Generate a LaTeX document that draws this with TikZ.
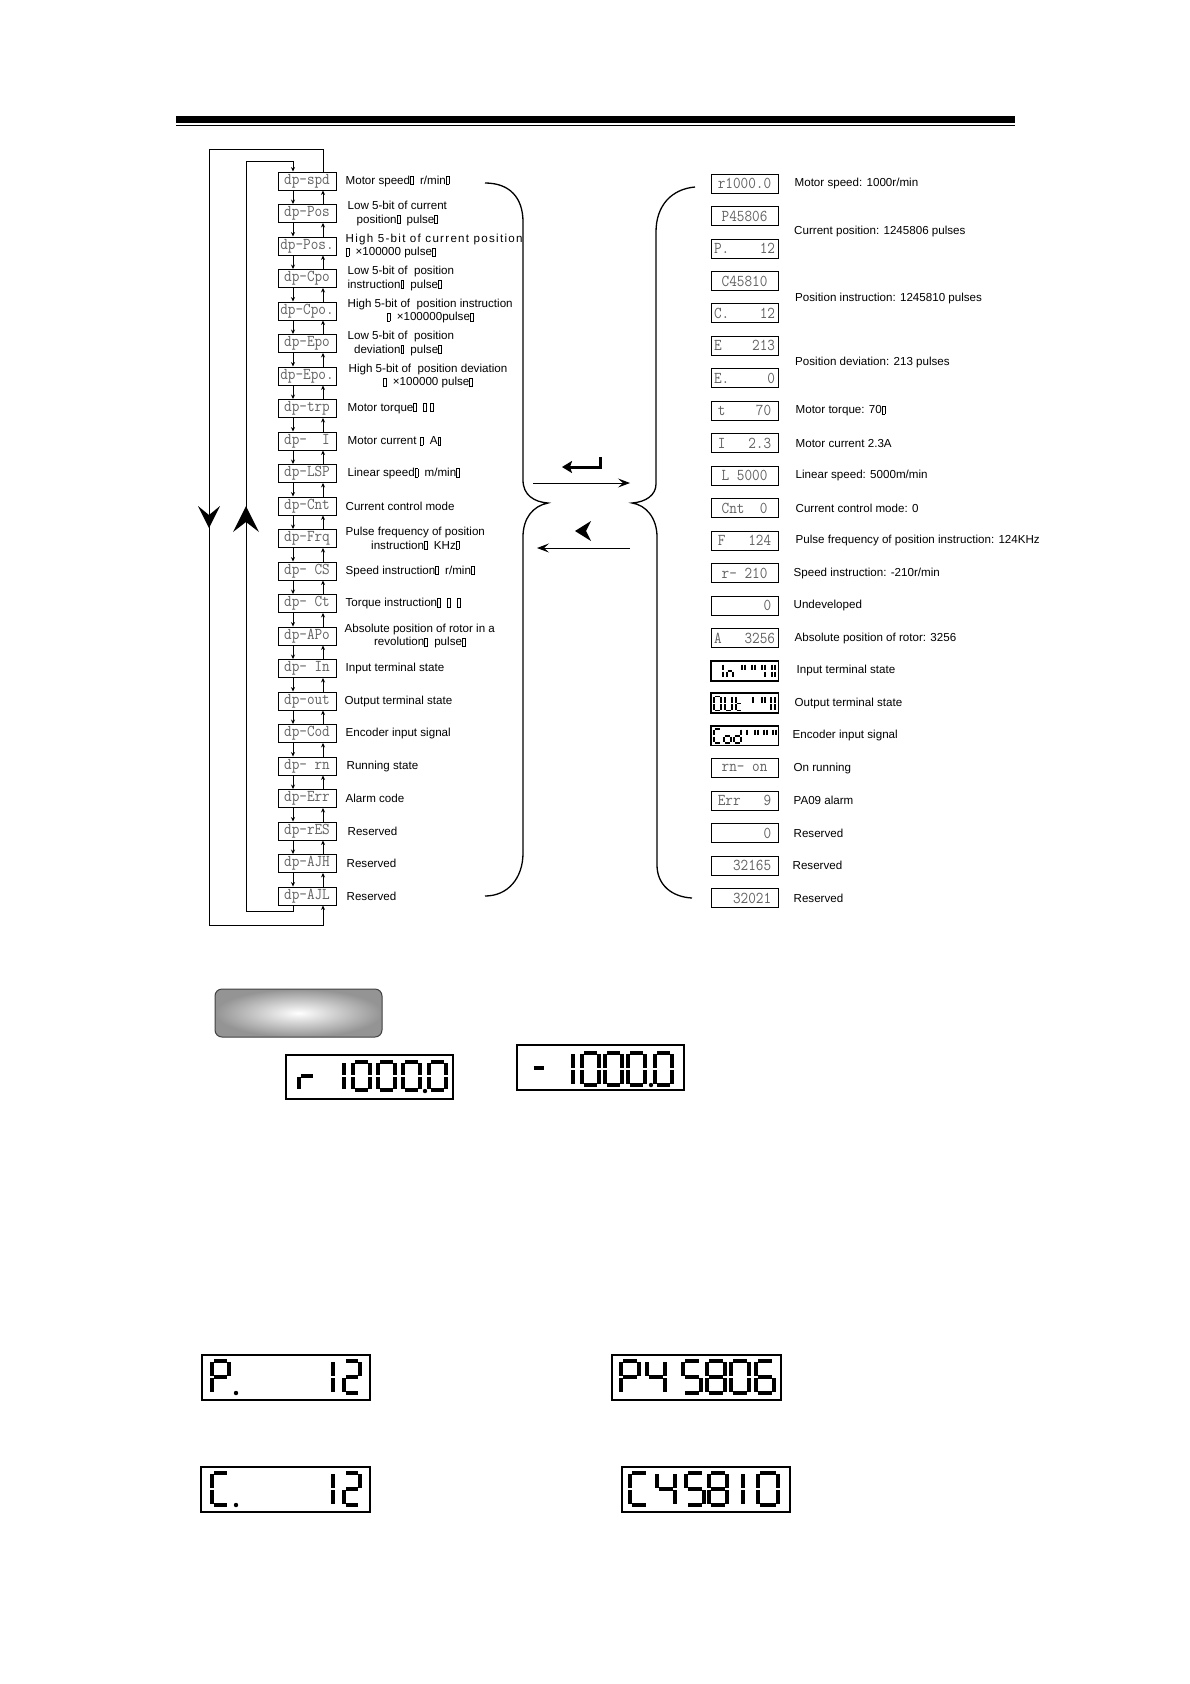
\documentclass[tikz,border=0pt]{standalone}
\usepackage{graphicx}
\usepackage{fontspec}
\setmainfont{Liberation Sans}
\usetikzlibrary{arrows.meta,positioning}

% missing-glyph box as printed in the source
\newcommand\nb{{\setlength\fboxsep{0pt}\setlength\fboxrule{0.55pt}\fbox{\rule{0pt}{7.6pt}\hspace{2.4pt}}}}
\newcommand\lcdtext[1]{\scalebox{1}[1.12]{#1}}

% seven segment digits: bits a b c d e f g
\newcommand\segbits[7]{%
  \ifnum#1=1 \draw[seg] (.12,0)--(.88,0);\fi
  \ifnum#2=1 \draw[seg] (1,.08)--(1,.92);\fi
  \ifnum#3=1 \draw[seg] (1,1.08)--(1,1.92);\fi
  \ifnum#4=1 \draw[seg] (.12,2)--(.88,2);\fi
  \ifnum#5=1 \draw[seg] (0,1.08)--(0,1.92);\fi
  \ifnum#6=1 \draw[seg] (0,.08)--(0,.92);\fi
  \ifnum#7=1 \draw[seg] (.12,1)--(.88,1);\fi}
\newcommand\sdig[6][]{\begin{scope}[shift={(#2,#3)},xscale=#4,yscale=#5/2,#1]\expandafter\segbits#6\end{scope}}
\def\sgzero{1111110}
\def\sgtwo{1101101}
\def\sgfour{0110011}
\def\sgfive{1011011}
\def\sgsix{1011111}
\def\sgeight{1111111}
\def\sgP{1100111}
\def\sgC{1001110}
\def\sgr{0000101}
\def\sgdash{0000001}
\def\sgbar{0000110}
\def\sgn{0010101}
\def\sgt{0001111}
\def\sgU{0111110}
\def\sgo{0011101}
\def\sgd{0111101}
\def\sgtick{0100010}

\begin{document}
\begin{tikzpicture}[x=1pt,y=-1pt,
  lcd/.style={draw,line width=0.9pt,minimum width=58pt,minimum height=18pt,inner sep=0pt,
    font=\ttfamily\fontsize{14.8}{14.8}\selectfont,text=black!62},
  val/.style={lcd,minimum width=67pt,minimum height=19pt},
  lbl/.style={inner sep=0pt,font=\fontsize{11.6}{13.5}\selectfont},
  arr/.style={-{Stealth[length=4.5pt,width=4pt]},line width=0.8pt},
  mid/.style={-{Stealth[length=12pt,width=9pt,inset=5pt]},line width=0.9pt},
  seg/.style={line width=3.2pt},
  disp/.style={draw,line width=1.3pt}]
\useasboundingbox (0,0) rectangle (1190,1684);

% header rule
\draw[line width=7pt] (176,119.6) -- (1015,119.6);
\draw[line width=1.3pt] (176,125.6) -- (1015,125.6);

% parameter chain
\foreach \t [count=\i from 0] in {spd,Pos,Pos.,Cpo,Cpo.,Epo,Epo.,trp,~~I,LSP,Cnt,Frq,~CS,~Ct,APo,~In,out,Cod,~rn,Err,rES,AJH,AJL}
  \node[lcd] (dp\i) at (307,181+32.5*\i) {\lcdtext{dp-\t}};
\foreach \i in {0,...,21} {
  \pgfmathtruncatemacro\j{\i+1}
  \draw[arr] ([xshift=-14pt]dp\i.south) -- ([xshift=-14pt]dp\j.north);
  \draw[arr] ([xshift=16pt]dp\j.north) -- ([xshift=16pt]dp\i.south);
}
\coordinate (innerb) at (246,911);
\coordinate (innert) at (246,161);
\coordinate (outert) at (209,149);
\coordinate (outerb) at (209,925);
\draw[arr] ([xshift=-14pt]dp22.south) |- (innerb) -- (innert) -| ([xshift=-14pt]dp0.north);
\draw[arr] ([xshift=16pt]dp0.north) |- (outert) -- (outerb) -| ([xshift=16pt]dp22.south);
\fill (209,528) -- (198,506) -- (209,515) -- (220,506) -- cycle;
\fill (246,506) -- (233,532) -- (246,522) -- (259,532) -- cycle;

% left labels
\node[lbl,right=9pt of dp0] (lb0) {Motor speed\nb\ \ r/min\nb};
\node[lbl,align=center,right=11pt of dp1] (lb1) {Low 5-bit of current\\position\nb\ \ pulse\nb};
\node[lbl,align=left,right=9pt of dp2] (lb2) {{\addfontfeature{LetterSpace=11}High 5-bit of current position}\\\nb\ \ ×100000 pulse\nb};
\node[lbl,align=left,right=11pt of dp3] (lb3) {Low 5-bit of\ \ position\\instruction\nb\ \ pulse\nb};
\node[lbl,align=center,right=11pt of dp4] (lb4) {High 5-bit of\ \ position instruction\\\nb\ \ ×100000pulse\nb};
\node[lbl,align=left,right=11pt of dp5] (lb5) {Low 5-bit of\ \ position\\\ \ deviation\nb\ \ pulse\nb};
\node[lbl,align=center,right=12pt of dp6] (lb6) {High 5-bit of\ \ position deviation\\\nb\ \ ×100000 pulse\nb};
\node[lbl,right=11pt of dp7] (lb7) {Motor torque\nb\ \ \nb\ \nb};
\node[lbl,right=11pt of dp8] (lb8) {Motor current \nb\ \ A\nb};
\node[lbl,right=11pt of dp9] (lb9) {Linear speed\nb\ \ m/min\nb};
\node[lbl,right=9pt of dp10] (lb10) {Current control mode};
\node[lbl,align=center,right=9pt of dp11] (lb11) {Pulse frequency of position\\instruction\nb\ \ KHz\nb};
\node[lbl,right=9pt of dp12] (lb12) {Speed instruction\nb\ \ r/min\nb};
\node[lbl,right=9pt of dp13] (lb13) {Torque instruction\nb\ \ \nb\ \ \nb};
\node[lbl,align=center,right=8pt of dp14] (lb14) {Absolute position of rotor in a\\revolution\nb\ \ pulse\nb};
\node[lbl,right=9pt of dp15] (lb15) {Input terminal state};
\node[lbl,right=8pt of dp16] (lb16) {Output terminal state};
\node[lbl,right=9pt of dp17] (lb17) {Encoder input signal};
\node[lbl,right=10pt of dp18] (lb18) {Running state};
\node[lbl,right=9pt of dp19] (lb19) {Alarm code};
\node[lbl,right=11pt of dp20] (lb20) {Reserved};
\node[lbl,right=10pt of dp21] (lb21) {Reserved};
\node[lbl,right=10pt of dp22] (lb22) {Reserved};

% braces and the keys between them
\draw[line width=1.3pt] (485,183) .. controls (510,183) and (523,198) .. (523,222) -- (523,480)
  .. controls (523,495) and (534,502) .. (548,503) .. controls (533,506) and (523,518) .. (523,537)
  -- (523,853) .. controls (523,878) and (508,896) .. (485,896);
\draw[line width=1.3pt] (695,187) .. controls (672,189) and (656,205) .. (656,232) -- (656,484)
  .. controls (656,495) and (646,502) .. (632,503) .. controls (646,505) and (657,518) .. (657,537)
  -- (657,865) .. controls (657,885) and (672,897) .. (692,898);
\coordinate (fwda) at (533,483);
\coordinate (fwdb) at (630,483);
\coordinate (bcka) at (630,548);
\coordinate (bckb) at (537,548);
\draw[mid] (fwda) -- (fwdb);
\draw[mid] (bcka) -- (bckb);
\draw[line width=3pt,-{Stealth[length=10pt,width=12pt,inset=2pt]}] (600.5,457) -- (600.5,467) -- (562,467);
\fill (575,531) -- (591,521) -- (586,531) -- (591,541) -- cycle;

% values
\foreach \t [count=\i from 0] in {r1000.0,P45806,P.~~~~12,C45810,C.~~~~12,E~~~~213,E.~~~~~0,t~~~~70,I~~~2.3,L~5000,Cnt~~0,F~~~124,r-~210,~~~~~~0,A~~~3256,,,,rn-~on,Err~~~9,~~~~~~0,~~32165,~~32021}
  \node[val] (rv\i) at (744.5,183.5+32.48*\i) {\lcdtext{\t}};
\foreach \i in {15,16,17}
  \draw[line width=1.7pt] (rv\i.south west) rectangle (rv\i.north east);
\begin{scope}[seg/.style={line width=1.5pt}]
  % In
  \sdig{723}{664}{5}{14}{\sgbar}
  \sdig{727}{664}{6}{14}{\sgn}
  \sdig{742}{664}{3}{14}{\sgtick}
  \sdig{752}{664}{3}{14}{\sgtick}
  \sdig{762}{664}{3}{14}{0110010}
  \sdig{772}{664}{3}{14}{0110110}
  % OUt
  \sdig{714}{696.5}{7}{14}{\sgzero}
  \sdig{725}{696.5}{7}{14}{\sgU}
  \sdig{736}{696.5}{6}{14}{\sgt}
  \sdig{753}{696.5}{3}{14}{0000010}
  \sdig{762}{696.5}{3}{14}{\sgtick}
  \sdig{771}{696.5}{4}{14}{0110110}
  % Cod
  \sdig{714}{729}{7}{14}{\sgC}
  \sdig{724}{729}{7}{14}{\sgo}
  \sdig{734}{729}{7}{14}{\sgd}
  \sdig{747}{729}{3}{14}{0000010}
  \sdig{755}{729}{3}{14}{\sgtick}
  \sdig{764}{729}{3}{14}{\sgtick}
  \sdig{773}{729}{3}{14}{0100010}
\end{scope}

% right labels
\node[lbl,right=16pt of rv0] (rt0) {Motor speed: 1000r/min};
\node[lbl,anchor=west] (rt1) at (794,231) {Current position: 1245806 pulses};
\node[lbl,anchor=west] (rt3) at (795,298) {Position instruction: 1245810 pulses};
\node[lbl,anchor=west] (rt5) at (795,362) {Position deviation: 213 pulses};
\node[lbl,right=17pt of rv7] (rt7) {Motor torque: 70\nb};
\node[lbl,right=17pt of rv8] (rt8) {Motor current 2.3A};
\node[lbl,right=17pt of rv9] (rt9) {Linear speed: 5000m/min};
\node[lbl,right=17pt of rv10] (rt10) {Current control mode: 0};
\node[lbl,right=17pt of rv11] (rt11) {Pulse frequency of position instruction: 124KHz};
\node[lbl,right=15pt of rv12] (rt12) {Speed instruction: -210r/min};
\node[lbl,right=15pt of rv13] (rt13) {Undeveloped};
\node[lbl,right=16pt of rv14] (rt14) {Absolute position of rotor: 3256};
\node[lbl,right=18pt of rv15] (rt15) {Input terminal state};
\node[lbl,right=16pt of rv16] (rt16) {Output terminal state};
\node[lbl,right=14pt of rv17] (rt17) {Encoder input signal};
\node[lbl,right=15pt of rv18] (rt18) {On running};
\node[lbl,right=15pt of rv19] (rt19) {PA09 alarm};
\node[lbl,right=15pt of rv20] (rt20) {Reserved};
\node[lbl,right=14pt of rv21] (rt21) {Reserved};
\node[lbl,right=15pt of rv22] (rt22) {Reserved};

% key and large displays
\shade[draw=black!75,line width=1pt,rounded corners=7pt,inner color=white,outer color=black!42] (215,989) rectangle (382,1037);
\draw[disp] (286,1055) rectangle (453,1099);
\sdig{299}{1062}{16}{28}{\sgr}
\sdig{344}{1062}{10}{28}{\sgbar}
\foreach \x in {353,378,403,429} \sdig{\x}{1062}{17}{28}{\sgzero};
\fill (425,1091) circle (2.2);
\draw[disp] (517,1045) rectangle (684,1090);
\sdig{532}{1052}{14}{32}{\sgdash}
\sdig{573}{1053}{10}{32}{\sgbar}
\foreach \x in {582,605,628,655} \sdig{\x}{1053}{17}{32}{\sgzero};
\fill (651,1085) circle (2.2);

\draw[disp] (202,1355) rectangle (370,1400);
\sdig{212}{1361}{17}{32}{\sgP}
\fill (236,1393) circle (2.2);
\sdig{333}{1361}{10}{32}{\sgbar}
\sdig{344}{1361}{16}{32}{\sgtwo}
\draw[disp] (612,1355) rectangle (781,1400);
\sdig{621}{1361}{18}{32}{\sgP}
\sdig{647}{1361}{18}{32}{\sgfour}
\sdig{683}{1361}{18}{32}{\sgfive}
\sdig{707}{1361}{18}{32}{\sgeight}
\sdig{731}{1361}{18}{32}{\sgzero}
\sdig{756}{1361}{18}{32}{\sgsix}

\draw[disp] (201,1467) rectangle (370,1512);
\sdig{212}{1473}{17}{32}{\sgC}
\fill (236,1505) circle (2.2);
\sdig{333}{1473}{10}{32}{\sgbar}
\sdig{344}{1473}{16}{32}{\sgtwo}
\draw[disp] (622,1467) rectangle (790,1512);
\sdig{630}{1473}{18}{32}{\sgC}
\sdig{657}{1473}{18}{32}{\sgfour}
\sdig{686}{1473}{18}{32}{\sgfive}
\sdig{709}{1473}{18}{32}{\sgeight}
\sdig{743}{1473}{10}{32}{\sgbar}
\sdig{758}{1473}{20}{32}{\sgzero}
\end{tikzpicture}
\end{document}
